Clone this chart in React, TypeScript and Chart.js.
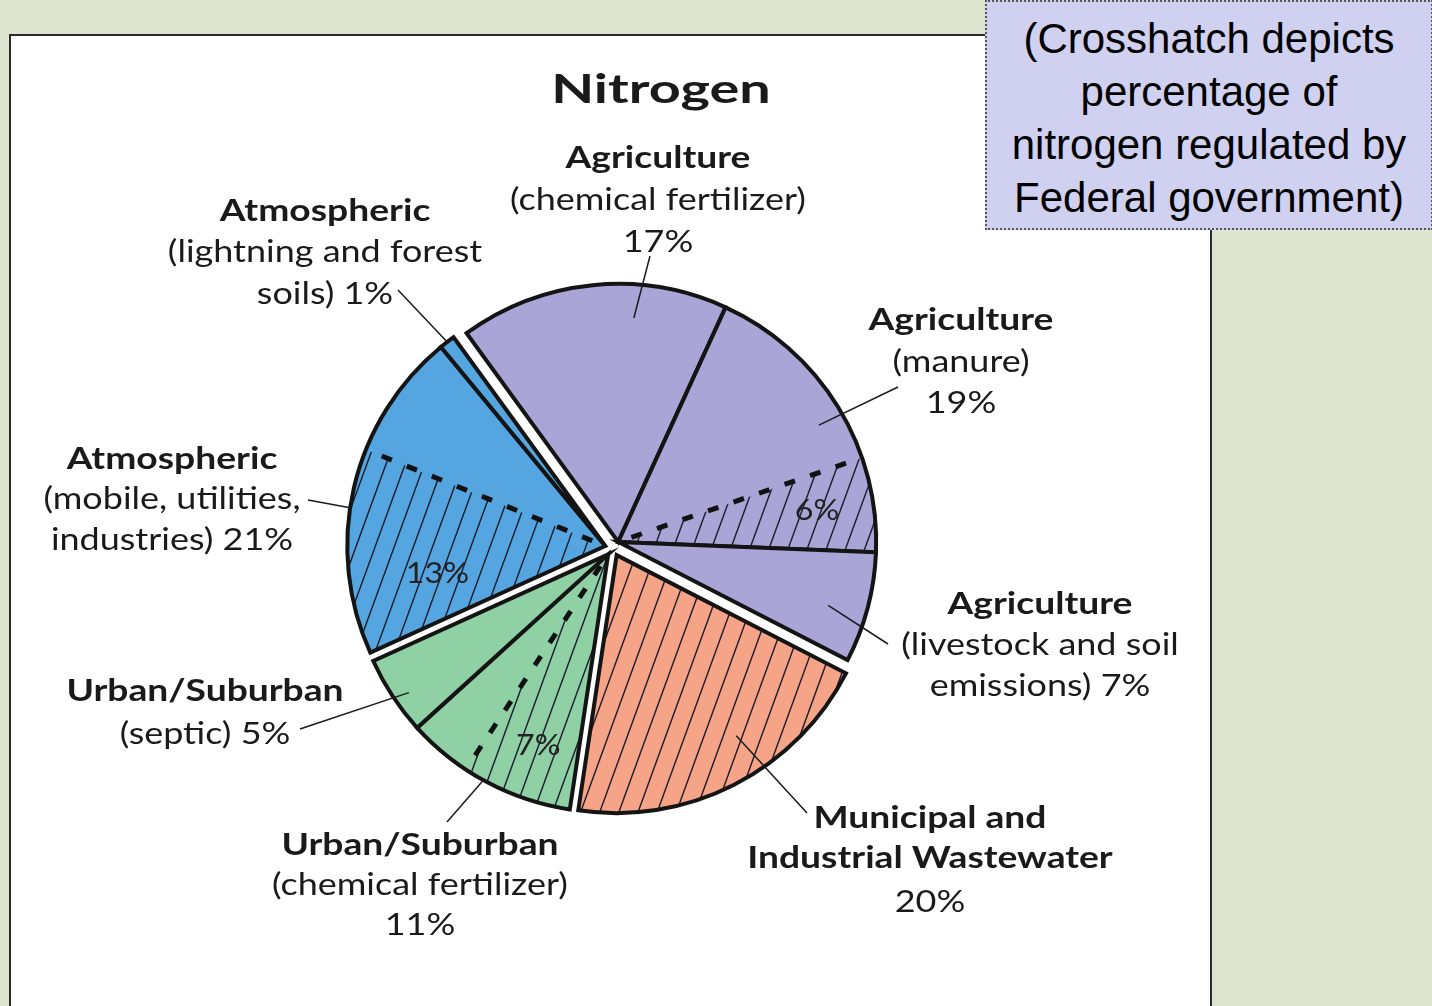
import React, { useEffect, useRef } from "react";
import { Chart, registerables } from "chart.js";

Chart.register(...registerables);

// ---------- data ----------
const categories = [
  "Agriculture (chemical fertilizer)",
  "Agriculture (manure)",
  "Agriculture (livestock and soil emissions)",
  "Municipal and Industrial Wastewater",
  "Urban/Suburban (chemical fertilizer)",
  "Urban/Suburban (septic)",
  "Atmospheric (mobile, utilities, industries)",
  "Atmospheric (lightning and forest soils)",
];
const shares = [17, 19, 7, 20, 11, 5, 21, 1];
const regulatedShares = [0, 6, 0, 20, 7, 0, 13, 0];
const sourceGroups = ["Agriculture", "Agriculture", "Agriculture", "Municipal", "Urban", "Urban", "Atmospheric", "Atmospheric"];
const regulatedSide = ["", "end", "", "start", "start", "", "start", ""];
const labelHeads = [
  ["Agriculture"],
  ["Agriculture"],
  ["Agriculture"],
  ["Municipal and", "Industrial Wastewater"],
  ["Urban/Suburban"],
  ["Urban/Suburban"],
  ["Atmospheric"],
  ["Atmospheric"],
];
const labelNotes = [
  ["(chemical fertilizer)", "{v}"],
  ["(manure)", "{v}"],
  ["(livestock and soil", "emissions) {v}"],
  ["{v}"],
  ["(chemical fertilizer)", "{v}"],
  ["(septic) {v}"],
  ["(mobile, utilities,", "industries) {v}"],
  ["(lightning and forest", "soils) {v}"],
];
const titleText = "Nitrogen";
const noteLines = ["(Crosshatch depicts", "percentage of", "nitrogen regulated by", "Federal government)"];

// ---------- styles / layout ----------
const groupColors: Record<string, string> = {
  Agriculture: "#a9a5d7",
  Municipal: "#f5a488",
  Urban: "#8fd0a5",
  Atmospheric: "#55a6e0",
};
const FONT = "Lato, 'Open Sans', sans-serif";
const EXPLODE = 8;
const PIE_RADIUS = 258;
const labelLayout = [
  { x: 658, ys: [168, 210, 252] },
  { x: 961, ys: [330, 372, 413] },
  { x: 1040, ys: [614, 655, 696] },
  { x: 930, ys: [828, 868, 912] },
  { x: 420, ys: [855, 895, 935] },
  { x: 205, ys: [701, 744] },
  { x: 172, ys: [469, 509, 550] },
  { x: 325, ys: [221, 262, 304] },
];
const leaderLayout = [
  { ox: 650, oy: 256, f: 0.66, rf: 0.87 },
  { ox: 898, oy: 387, f: 0.52, rf: 0.9 },
  { ox: 888, oy: 644, f: 0.58, rf: 0.85 },
  { ox: 807, oy: 813, f: 0.41, rf: 0.84 },
  { ox: 447, oy: 822, f: 0.52, rf: 1.0 },
  { ox: 300, oy: 729, f: 0.42, rf: 0.94 },
  { ox: 308, oy: 500, f: 0.44, rf: 1.0 },
  { ox: 398, oy: 290, f: 0.5, rf: 1.0 },
];
const innerLayout: Record<number, { f: number; rf: number }> = {
  1: { f: 0.48, rf: 0.78 },
  4: { f: 0.46, rf: 0.79 },
  6: { f: 0.32, rf: 0.66 },
};

function sector(ctx: CanvasRenderingContext2D, x: number, y: number, r: number, a0: number, a1: number) {
  ctx.beginPath();
  ctx.moveTo(x, y);
  ctx.arc(x, y, r, a0, a1);
  ctx.closePath();
}

function stretchText(ctx: CanvasRenderingContext2D, t: string, x: number, y: number, sx: number) {
  ctx.save();
  ctx.translate(x, y);
  ctx.scale(sx, 1);
  ctx.fillText(t, 0, 0);
  ctx.restore();
}

const piePlugin = {
  id: "nitrogenPie",
  beforeDatasetDraw(chart: any) {
    const ctx: CanvasRenderingContext2D = chart.ctx;
    const arcs = chart.getDatasetMeta(0).data as any[];
    const groupOff: Record<string, { dx: number; dy: number }> = {};
    Array.from(new Set(sourceGroups)).forEach((g) => {
      let s = Infinity, e = -Infinity;
      arcs.forEach((a, i) => {
        if (sourceGroups[i] !== g) return;
        s = Math.min(s, a.startAngle);
        e = Math.max(e, a.endAngle);
      });
      const m = (s + e) / 2;
      groupOff[g] = { dx: Math.cos(m) * EXPLODE, dy: Math.sin(m) * EXPLODE };
    });
    chart._groupOff = groupOff;

    arcs.forEach((a, i) => {
      const { x, y, startAngle, endAngle, outerRadius } = a;
      const off = groupOff[sourceGroups[i]];
      ctx.save();
      ctx.translate(off.dx, off.dy);
      sector(ctx, x, y, outerRadius, startAngle, endAngle);
      ctx.fillStyle = groupColors[sourceGroups[i]];
      ctx.fill();
      const reg = regulatedShares[i];
      if (reg > 0) {
        const span = ((endAngle - startAngle) * reg) / shares[i];
        const h0 = regulatedSide[i] === "end" ? endAngle - span : startAngle;
        const h1 = h0 + span;
        ctx.save();
        sector(ctx, x, y, outerRadius, h0, h1);
        ctx.clip();
        ctx.strokeStyle = "#1b1b2a";
        ctx.lineWidth = 1.4;
        const th = (70 * Math.PI) / 180;
        const dirx = Math.cos(th), diry = -Math.sin(th);
        const nx = Math.sin(th), ny = Math.cos(th);
        const sp = 18;
        for (let k = -20; k <= 20; k++) {
          const px = x + nx * k * sp, py = y + ny * k * sp;
          ctx.beginPath();
          ctx.moveTo(px - dirx * 400, py - diry * 400);
          ctx.lineTo(px + dirx * 400, py + diry * 400);
          ctx.stroke();
        }
        ctx.restore();
        if (reg < shares[i]) {
          const ba = regulatedSide[i] === "end" ? h0 : h1;
          ctx.save();
          ctx.setLineDash([11, 16]);
          ctx.lineDashOffset = -14;
          ctx.lineWidth = 5;
          ctx.strokeStyle = "#111";
          ctx.beginPath();
          ctx.moveTo(x, y);
          ctx.lineTo(x + Math.cos(ba) * outerRadius, y + Math.sin(ba) * outerRadius);
          ctx.stroke();
          ctx.restore();
        }
      }
      sector(ctx, x, y, outerRadius, startAngle, endAngle);
      ctx.lineWidth = 4;
      ctx.lineJoin = "miter";
      ctx.strokeStyle = "#141414";
      ctx.stroke();
      ctx.restore();
    });
    return false;
  },
  afterDraw(chart: any) {
    const ctx: CanvasRenderingContext2D = chart.ctx;
    const arcs = chart.getDatasetMeta(0).data as any[];
    const groupOff = chart._groupOff || {};
    ctx.save();
    ctx.fillStyle = "#1a1a1a";
    ctx.textAlign = "center";
    ctx.textBaseline = "alphabetic";
    ctx.font = `bold 41px ${FONT}`;
    stretchText(ctx, titleText, 661, 103, 1.36);

    arcs.forEach((a, i) => {
      const lay = labelLayout[i];
      const lines: { t: string; bold: boolean }[] = [];
      labelHeads[i].forEach((t) => lines.push({ t, bold: true }));
      labelNotes[i].forEach((t) => lines.push({ t: t.replace("{v}", `${shares[i]}%`), bold: false }));
      lines.forEach((ln, j) => {
        if (ln.bold) {
          ctx.font = `bold 30px ${FONT}`;
          stretchText(ctx, ln.t, lay.x, lay.ys[j], 1.24);
        } else {
          ctx.font = `31px ${FONT}`;
          stretchText(ctx, ln.t, lay.x, lay.ys[j], 1.16);
        }
      });
      const off = groupOff[sourceGroups[i]] || { dx: 0, dy: 0 };
      const L = leaderLayout[i];
      const ang = a.startAngle + (a.endAngle - a.startAngle) * L.f;
      const ix = a.x + off.dx + Math.cos(ang) * a.outerRadius * L.rf;
      const iy = a.y + off.dy + Math.sin(ang) * a.outerRadius * L.rf;
      ctx.beginPath();
      ctx.moveTo(L.ox, L.oy);
      ctx.lineTo(ix, iy);
      ctx.lineWidth = 1.5;
      ctx.strokeStyle = "#1a1a1a";
      ctx.stroke();
      const inn = innerLayout[i];
      if (inn && regulatedShares[i] > 0) {
        const span = ((a.endAngle - a.startAngle) * regulatedShares[i]) / shares[i];
        const h0 = regulatedSide[i] === "end" ? a.endAngle - span : a.startAngle;
        const ang2 = h0 + span * inn.f;
        const tx = a.x + off.dx + Math.cos(ang2) * a.outerRadius * inn.rf;
        const ty = a.y + off.dy + Math.sin(ang2) * a.outerRadius * inn.rf;
        ctx.font = `28px ${FONT}`;
        ctx.textBaseline = "middle";
        ctx.fillStyle = "#222";
        stretchText(ctx, `${regulatedShares[i]}%`, tx, ty, 1.15);
        ctx.textBaseline = "alphabetic";
        ctx.fillStyle = "#1a1a1a";
      }
    });
    ctx.restore();
  },
};

export default function App() {
  const ref = useRef<HTMLCanvasElement | null>(null);
  useEffect(() => {
    document.body.style.margin = "0";
    const canvas = ref.current!;
    const chart = new Chart(canvas, {
      type: "pie",
      data: {
        labels: categories,
        datasets: [
          {
            data: shares,
            backgroundColor: sourceGroups.map((g) => groupColors[g]),
            borderWidth: 0,
          },
        ],
      },
      options: {
        responsive: false,
        animation: false,
        events: [],
        rotation: -36,
        radius: PIE_RADIUS,
        layout: { padding: { left: 0, right: 206, top: 90, bottom: 0 } },
        plugins: {
          legend: { display: false },
          tooltip: { enabled: false },
        },
      } as any,
      plugins: [piePlugin as any],
    });
    return () => chart.destroy();
  }, []);

  return (
    <div style={{ position: "absolute", left: 0, top: 0, width: 1432, height: 1006, background: "#dde5cf", overflow: "hidden" }}>
      <div
        style={{
          position: "absolute",
          left: 9,
          top: 34,
          width: 1199,
          height: 1000,
          background: "#ffffff",
          border: "2px solid #2a2a2a",
        }}
      />
      <canvas
        ref={ref}
        width={1432}
        height={1006}
        style={{ position: "absolute", left: 0, top: 0, width: 1432, height: 1006 }}
      />
      <div
        style={{
          position: "absolute",
          left: 985,
          top: 0,
          width: 448,
          height: 230,
          boxSizing: "border-box",
          background: "#d0d0f0",
          border: "2px dotted #555",
          fontFamily: "'Liberation Sans', Arial, sans-serif",
          fontSize: 42,
          lineHeight: "53px",
          textAlign: "center",
          color: "#000",
          paddingTop: 10,
        }}
      >
        {noteLines.map((t, i) => (
          <div key={i} style={{ whiteSpace: "nowrap" }}>{t}</div>
        ))}
      </div>
    </div>
  );
}
